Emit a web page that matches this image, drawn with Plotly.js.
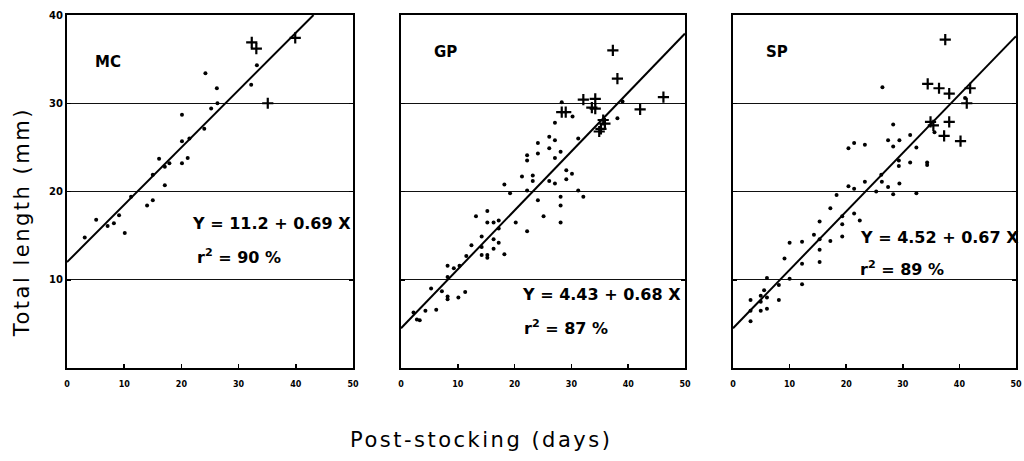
<!DOCTYPE html>
<html><head><meta charset="utf-8">
<script src="https://cdn.plot.ly/plotly-3.0.1.min.js"></script>
<style>html,body{margin:0;padding:0;background:#fff}#chart{width:1024px;height:461px}</style>
</head><body><div id="chart"></div>
<script>
// ---------- data ----------
const xTicks = [0, 10, 20, 30, 40, 50];
const yTicks = [10, 20, 30, 40];

// MC
const mcDotX = [3.1,5.1,7.1,8.2,9.1,10.1,11.2,14.0,15.0,15.0,16.1,17.1,17.1,17.9,20.1,20.1,20.1,21.1,21.4,24.0,24.2,25.2,26.2,26.3,32.2,33.2];
const mcDotY = [14.8,16.8,16.1,16.4,17.3,15.3,19.4,18.4,19.0,21.9,23.7,20.7,22.8,23.2,28.7,25.7,23.2,23.8,26.0,27.1,33.4,29.4,31.7,30.0,32.1,34.3];
const mcPlusX = [32.3,33.1,35.1,39.9];
const mcPlusY = [36.9,36.2,30.0,37.4];
const mcFitX = [0, 43.1];
const mcFitY = [12.0, 40.0];

// GP
const gpDotX = [2.2,2.8,3.3,4.3,5.3,6.2,7.2,8.2,8.2,8.2,8.2,9.3,10.1,10.3,11.3,11.5,12.4,13.2,14.2,14.2,14.2,15.2,15.2,15.2,15.2,16.3,16.3,16.3,17.2,17.2,17.2,18.2,18.2,19.2,20.2,21.3,22.2,22.2,22.2,22.2,23.2,23.2,24.1,24.1,24.1,25.1,26.1,26.1,26.1,27.1,27.1,27.1,27.1,28.1,28.1,28.1,28.1,29.1,29.1,30.1,30.2,31.2,31.2,32.1,28.3,38.1,39.0];
const gpDotY = [6.3,5.5,5.4,6.5,9.0,6.6,8.7,8.1,7.8,11.6,10.3,11.3,8.0,11.6,8.6,12.7,13.9,17.2,14.9,13.7,12.8,17.8,16.5,12.8,12.5,16.5,14.6,13.5,16.7,15.8,14.2,20.8,12.9,19.8,16.5,21.7,24.1,23.5,20.1,15.5,21.8,21.2,25.5,24.3,19.0,17.2,26.2,24.9,21.2,27.8,25.8,23.8,20.9,24.5,19.4,18.4,16.5,22.4,21.4,22.0,28.5,26.0,20.1,19.4,30.1,28.3,30.2];
const gpPlusX = [37.3,38.1,32.1,34.2,34.2,33.6,28.3,29.0,35.6,35.2,35.9,34.9,42.1,46.2];
const gpPlusY = [36.0,32.8,30.4,30.5,29.4,29.5,29.0,29.0,28.1,27.1,27.7,26.8,29.3,30.7];
const gpFitX = [0, 50];
const gpFitY = [4.5, 37.9];

// SP
const spDotX = [3.1,3.1,3.1,4.9,4.9,4.9,5.5,6.0,6.0,6.0,8.1,8.1,9.1,10.0,10.0,12.2,12.2,12.2,14.3,15.3,15.3,15.3,15.3,17.2,17.2,18.3,19.3,19.3,19.3,20.4,20.4,21.4,21.4,21.4,22.4,23.3,23.3,25.3,26.2,26.4,26.3,27.4,27.4,28.3,28.3,28.3,29.3,29.3,29.4,29.4,31.3,31.3,32.4,32.4,34.3,34.3,35.6,41.0];
const spDotY = [7.7,6.5,5.3,8.2,7.5,6.5,8.8,8.0,6.7,10.2,7.7,9.4,12.4,14.2,10.1,14.3,11.8,9.5,15.1,16.6,14.6,13.4,12.0,18.1,14.4,19.6,17.2,16.3,14.9,24.9,20.6,25.5,20.3,17.5,16.7,25.3,21.1,20.0,21.9,31.8,21.1,25.8,20.5,27.6,25.1,19.7,23.5,22.9,25.8,20.9,26.4,23.3,25.0,19.8,23.3,23.0,26.7,30.6];
const spPlusX = [37.5,34.4,36.4,38.2,41.9,41.3,34.9,35.4,38.2,37.3,40.2];
const spPlusY = [37.2,32.2,31.7,31.1,31.7,30.0,27.9,27.5,27.9,26.3,25.7];
const spFitX = [0, 50];
const spFitY = [4.5, 37.6];

const panelNames = ['MC', 'GP', 'SP'];
const equations = ['Y = 11.2 + 0.69 X', 'Y = 4.43 + 0.68 X', 'Y = 4.52 + 0.67 X'];
const rSquared = ['r<sup>2</sup> = 90 %', 'r<sup>2</sup> = 87 %', 'r<sup>2</sup> = 89 %'];
const xTitle = 'Post-stocking (days)';
const yTitle = 'Total length (mm)';

// ---------- traces ----------
const series = [
  [mcDotX, mcDotY, mcPlusX, mcPlusY, mcFitX, mcFitY],
  [gpDotX, gpDotY, gpPlusX, gpPlusY, gpFitX, gpFitY],
  [spDotX, spDotY, spPlusX, spPlusY, spFitX, spFitY]
];
const traces = [];
series.forEach((s, i) => {
  const xa = i === 0 ? 'x' : 'x' + (i + 1);
  const ya = i === 0 ? 'y' : 'y' + (i + 1);
  traces.push({x: s[4], y: s[5], xaxis: xa, yaxis: ya, mode: 'lines', type: 'scatter',
    line: {color: '#000', width: 2}, hoverinfo: 'skip', showlegend: false});
  traces.push({x: s[0], y: s[1], xaxis: xa, yaxis: ya, mode: 'markers', type: 'scatter',
    marker: {symbol: 'circle', size: 4, color: '#000'}, showlegend: false});
  traces.push({x: s[2], y: s[3], xaxis: xa, yaxis: ya, mode: 'markers', type: 'scatter',
    marker: {symbol: 'cross-thin-open', size: 8, color: '#000', line: {color: '#000', width: 2.2}}, showlegend: false});
});

// ---------- layout ----------
const H = 461, W = 1024;
const xDomPx = [[67, 353], [401, 685], [733, 1016]];
const yDom = [1 - 368 / H, 1 - 15 / H];
const layout = {
  width: W, height: H,
  margin: {l: 0, r: 0, t: 0, b: 0},
  paper_bgcolor: '#fff', plot_bgcolor: '#fff',
  showlegend: false,
  font: {family: 'DejaVu Sans', color: '#000'},
  annotations: []
};
xDomPx.forEach((d, i) => {
  const sfx = i === 0 ? '' : String(i + 1);
  layout['xaxis' + sfx] = {
    domain: [d[0] / W, d[1] / W], anchor: 'y' + sfx, range: [0, 50],
    tickmode: 'array', tickvals: xTicks, ticktext: xTicks.map(String),
    ticks: 'inside', ticklen: 4, tickwidth: 1.5, tickcolor: '#000',
    showline: true, linewidth: 2, linecolor: '#000', mirror: true,
    showgrid: false, zeroline: false, ticklabelstandoff: 7,
    tickfont: {family: 'DejaVu Sans', size: 8, weight: 'bold', color: '#000'}
  };
  layout['yaxis' + sfx] = {
    domain: yDom, anchor: 'x' + sfx, range: [0, 40],
    tickmode: 'array', tickvals: yTicks, ticktext: yTicks.map(String),
    showticklabels: i === 0,
    ticks: 'inside', ticklen: 4, tickwidth: 1.5, tickcolor: '#000',
    showline: true, linewidth: 2, linecolor: '#000', mirror: 'ticks',
    showgrid: true, gridcolor: '#111', gridwidth: 1, zeroline: false,
    tickfont: {family: 'DejaVu Sans', size: 10, weight: 'bold', color: '#000'}
  };
});
const labelPos = [[4.5, 34.7], [5.5, 35.8], [5.5, 35.8]];
const eqPos = [[21.5, 16.4], [21.0, 8.3], [22.1, 14.8]];
const r2Pos = [[22.4, 12.6], [21.3, 4.6], [22.1, 11.3]];
panelNames.forEach((n, i) => {
  const xr = i === 0 ? 'x' : 'x' + (i + 1);
  const yr = i === 0 ? 'y' : 'y' + (i + 1);
  const f = {family: 'DejaVu Sans', size: 15, weight: 'bold', color: '#000'};
  layout.annotations.push({text: n, x: labelPos[i][0], y: labelPos[i][1], xref: xr, yref: yr,
    xanchor: 'left', yanchor: 'middle', showarrow: false, font: f});
  layout.annotations.push({text: equations[i], x: eqPos[i][0], y: eqPos[i][1], xref: xr, yref: yr,
    xanchor: 'left', yanchor: 'middle', showarrow: false, font: Object.assign({}, f, {size: 16})});
  layout.annotations.push({text: rSquared[i], x: r2Pos[i][0], y: r2Pos[i][1], xref: xr, yref: yr,
    xanchor: 'left', yanchor: 'middle', showarrow: false, font: Object.assign({}, f, {size: 16})});
});
layout.annotations.push({text: xTitle, x: 481 / W, y: 1 - 440 / H, xref: 'paper', yref: 'paper',
  xanchor: 'center', yanchor: 'middle', showarrow: false,
  font: {family: 'DejaVu Sans', size: 21, color: '#000'}});
layout.annotations.push({text: yTitle, x: 22 / W, y: 1 - 222 / H, xref: 'paper', yref: 'paper',
  xanchor: 'center', yanchor: 'middle', showarrow: false, textangle: -90,
  font: {family: 'DejaVu Sans', size: 21, color: '#000'}});

Plotly.newPlot('chart', traces, layout, {displayModeBar: false, staticPlot: true}).then(() => {
  // widen the letter spacing of the two axis titles, as in the reference
  const n = layout.annotations.length;
  [n - 2, n - 1].forEach(idx => {
    document.querySelectorAll('g.annotation[data-index="' + idx + '"] text').forEach(t => {
      t.style.letterSpacing = '2.5px';
    });
  });
  // drop the empty per-axis title placeholders (titles are drawn as annotations)
  document.querySelectorAll('text.xtitle, text.ytitle').forEach(t => {
    if (!t.textContent.trim()) t.remove();
  });
});
</script>
</body></html>
